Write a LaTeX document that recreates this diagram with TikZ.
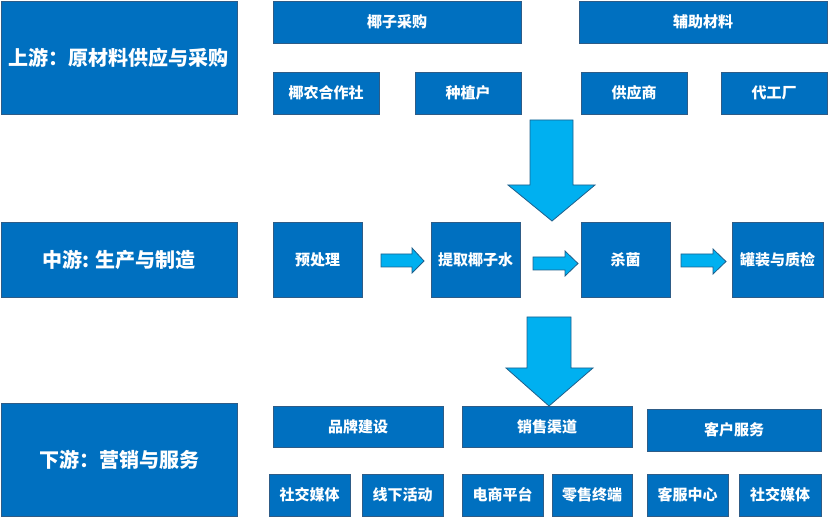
\documentclass[tikz,border=0pt]{standalone}
\usepackage{fontspec}
\setmainfont{Noto Sans CJK SC}
\definecolor{boxblue}{HTML}{0070C0}
\definecolor{boxedge}{HTML}{2E5C87}
\definecolor{arrowblue}{HTML}{00B0F0}
\definecolor{arrowedge}{HTML}{1F5F8B}
\begin{document}
\begin{tikzpicture}[x=1pt,y=-1pt,
  box/.style={draw=boxedge,fill=boxblue,line width=0.9pt,text=white,font=\bfseries\fontsize{15}{17}\selectfont,inner sep=0pt,align=center},
  head/.style={box,font=\bfseries\fontsize{20}{22}\selectfont},
  blockarrow/.style={draw=arrowedge,fill=arrowblue,line width=0.8pt,line join=miter}]
\useasboundingbox (0,0) rectangle (830,518);
% stage headers
\node[head,minimum width=236pt,minimum height=113pt] (up) at (119,57.5) {上游：原材料供应与采购};
\node[head,minimum width=236pt,minimum height=75pt] (mid) at (119,259.5) {中游: 生产与制造};
\node[head,minimum width=236pt,minimum height=113pt] (down) at (119,459.5) {下游：营销与服务};
% upstream
\node[box,minimum width=248pt,minimum height=42pt] (caigou) at (397,22) {椰子采购};
\node[box,minimum width=248pt,minimum height=42pt] (fuzhu) at (703,22) {辅助材料};
\node[box,minimum width=106pt,minimum height=42pt] (yenong) at (326,93) {椰农合作社};
\node[box,minimum width=106pt,minimum height=42pt] (zhongzhi) at (468,93) {种植户};
\node[box,minimum width=106pt,minimum height=42pt] (gongying) at (634,93) {供应商};
\node[box,minimum width=106pt,minimum height=42pt] (daigong) at (774,93) {代工厂};
% midstream
\node[box,minimum width=89pt,minimum height=75pt] (yuchuli) at (317.5,259.5) {预处理};
\node[box,minimum width=89pt,minimum height=75pt] (tiqu) at (475.5,259.5) {提取椰子水};
\node[box,minimum width=89pt,minimum height=75pt] (shajun) at (625.5,259.5) {杀菌};
\node[box,minimum width=91pt,minimum height=75pt] (guanzhuang) at (777.5,259.5) {罐装与质检};
% downstream
\node[box,minimum width=170pt,minimum height=41pt] (pinpai) at (358,426.5) {品牌建设};
\node[box,minimum width=170pt,minimum height=41pt] (xiaoshou) at (547,426.5) {销售渠道};
\node[box,minimum width=174pt,minimum height=42pt] (kehu) at (734,430) {客户服务};
\node[box,minimum width=81pt,minimum height=42pt] (shejiaoA) at (309.5,495) {社交媒体};
\node[box,minimum width=81pt,minimum height=42pt] (xianxia) at (402.5,495) {线下活动};
\node[box,minimum width=81pt,minimum height=42pt] (dianshang) at (502.5,495) {电商平台};
\node[box,minimum width=80pt,minimum height=42pt] (lingshou) at (592,495) {零售终端};
\node[box,minimum width=81pt,minimum height=42pt] (kefu) at (687.5,495) {客服中心};
\node[box,minimum width=82pt,minimum height=42pt] (shejiaoB) at (780,495) {社交媒体};
% big block arrows
\draw[blockarrow] (530,120) -- (573,120) -- (573,185) -- (595,185) -- (552,221) -- (508,185) -- (530,185) -- cycle;
\draw[blockarrow] (527,317) -- (571,317) -- (571,368) -- (593,368) -- (549,406) -- (506,368) -- (527,368) -- cycle;
% small block arrows
\draw[blockarrow] (381,254) -- (412,254) -- (412,248) -- (424,261) -- (412,273) -- (412,267) -- (381,267) -- cycle;
\draw[blockarrow] (533,257) -- (565,257) -- (565,251) -- (578,263.5) -- (565,276) -- (565,270) -- (533,270) -- cycle;
\draw[blockarrow] (681,254) -- (713,254) -- (713,249) -- (726,261.5) -- (713,274) -- (713,267) -- (681,267) -- cycle;
\end{tikzpicture}
\end{document}
